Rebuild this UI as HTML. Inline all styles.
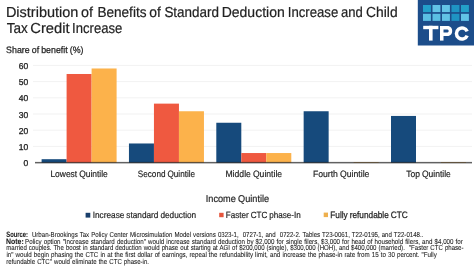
<!DOCTYPE html>
<html><head><meta charset="utf-8"><style>
html,body{margin:0;padding:0;background:#fff;width:474px;height:278px;overflow:hidden}
svg{display:block;will-change:transform;font-family:"Liberation Sans", sans-serif;text-rendering:geometricPrecision} text{word-spacing:-0.04em} text.src{word-spacing:0.06em}
</style></head><body>
<svg width="474" height="278" viewBox="0 0 474 278">
<rect x="33" y="145.90" width="439" height="1" fill="#f2f2f2"/>
<rect x="33" y="129.70" width="439" height="1" fill="#f2f2f2"/>
<rect x="33" y="113.50" width="439" height="1" fill="#f2f2f2"/>
<rect x="33" y="97.30" width="439" height="1" fill="#f2f2f2"/>
<rect x="33" y="81.10" width="439" height="1" fill="#f2f2f2"/>
<rect x="33" y="64.90" width="439" height="1" fill="#f2f2f2"/>
<rect x="41.60" y="159.20" width="25.00" height="3.40" fill="#164a7c"/>
<rect x="66.60" y="73.99" width="25.00" height="88.61" fill="#ef5940"/>
<rect x="91.60" y="68.48" width="25.00" height="94.12" fill="#fcb24b"/>
<rect x="128.95" y="143.48" width="25.00" height="19.12" fill="#164a7c"/>
<rect x="153.95" y="103.63" width="25.00" height="58.97" fill="#ef5940"/>
<rect x="178.95" y="111.25" width="25.00" height="51.35" fill="#fcb24b"/>
<rect x="216.30" y="122.75" width="25.00" height="39.85" fill="#164a7c"/>
<rect x="241.30" y="153.04" width="25.00" height="9.56" fill="#ef5940"/>
<rect x="266.30" y="153.04" width="25.00" height="9.56" fill="#fcb24b"/>
<rect x="303.65" y="111.25" width="25.00" height="51.35" fill="#164a7c"/>
<rect x="353.65" y="162.11" width="25.00" height="0.49" fill="#fcb24b"/>
<rect x="391.00" y="115.94" width="25.00" height="46.66" fill="#164a7c"/>
<rect x="441.00" y="162.11" width="25.00" height="0.49" fill="#fcb24b"/>
<rect x="35" y="161.90" width="437" height="1.5" fill="#000" fill-opacity="0.62"/>
<text x="28.3" y="166.10" text-anchor="end" font-size="8.5" fill="#222" stroke="#222" stroke-width="0.3">0</text>
<text x="28.3" y="149.90" text-anchor="end" font-size="8.5" fill="#222" stroke="#222" stroke-width="0.3">10</text>
<text x="28.3" y="133.70" text-anchor="end" font-size="8.5" fill="#222" stroke="#222" stroke-width="0.3">20</text>
<text x="28.3" y="117.50" text-anchor="end" font-size="8.5" fill="#222" stroke="#222" stroke-width="0.3">30</text>
<text x="28.3" y="101.30" text-anchor="end" font-size="8.5" fill="#222" stroke="#222" stroke-width="0.3">40</text>
<text x="28.3" y="85.10" text-anchor="end" font-size="8.5" fill="#222" stroke="#222" stroke-width="0.3">50</text>
<text x="28.3" y="68.90" text-anchor="end" font-size="8.5" fill="#222" stroke="#222" stroke-width="0.3">60</text>
<text x="50.40" y="176.9" font-size="9.2" fill="#222" stroke="#222" stroke-width="0.18" textLength="57.4" lengthAdjust="spacingAndGlyphs">Lowest Quintile</text>
<text x="137.75" y="176.9" font-size="9.2" fill="#222" stroke="#222" stroke-width="0.18" textLength="57.4" lengthAdjust="spacingAndGlyphs">Second Quintile</text>
<text x="225.45" y="176.9" font-size="9.2" fill="#222" stroke="#222" stroke-width="0.18" textLength="56.7" lengthAdjust="spacingAndGlyphs">Middle Quintile</text>
<text x="312.90" y="176.9" font-size="9.2" fill="#222" stroke="#222" stroke-width="0.18" textLength="56.5" lengthAdjust="spacingAndGlyphs">Fourth Quintile</text>
<text x="406.15" y="176.9" font-size="9.2" fill="#222" stroke="#222" stroke-width="0.18" textLength="44.7" lengthAdjust="spacingAndGlyphs">Top Quintile</text>
<text x="5.91" y="16.8" font-size="14.5" fill="#222" textLength="72.43" lengthAdjust="spacingAndGlyphs" stroke="#222" stroke-width="0.2">Distribution</text>
<text x="81.00" y="16.8" font-size="14.5" fill="#222" textLength="11.98" lengthAdjust="spacingAndGlyphs" stroke="#222" stroke-width="0.2">of</text>
<text x="97.39" y="16.8" font-size="14.5" fill="#222" textLength="49.11" lengthAdjust="spacingAndGlyphs" stroke="#222" stroke-width="0.2">Benefits</text>
<text x="149.22" y="16.8" font-size="14.5" fill="#222" textLength="11.56" lengthAdjust="spacingAndGlyphs" stroke="#222" stroke-width="0.2">of</text>
<text x="164.39" y="16.8" font-size="14.5" fill="#222" textLength="54.58" lengthAdjust="spacingAndGlyphs" stroke="#222" stroke-width="0.2">Standard</text>
<text x="221.65" y="16.8" font-size="14.5" fill="#222" textLength="63.16" lengthAdjust="spacingAndGlyphs" stroke="#222" stroke-width="0.2">Deduction</text>
<text x="287.78" y="16.8" font-size="14.5" fill="#222" textLength="50.50" lengthAdjust="spacingAndGlyphs" stroke="#222" stroke-width="0.2">Increase</text>
<text x="340.95" y="16.8" font-size="14.5" fill="#222" textLength="21.80" lengthAdjust="spacingAndGlyphs" stroke="#222" stroke-width="0.2">and</text>
<text x="366.10" y="16.8" font-size="14.5" fill="#222" textLength="31.49" lengthAdjust="spacingAndGlyphs" stroke="#222" stroke-width="0.2">Child</text>
<text x="6.72" y="32.7" font-size="14.5" fill="#222" textLength="21.02" lengthAdjust="spacingAndGlyphs" stroke="#222" stroke-width="0.2">Tax</text>
<text x="30.25" y="32.7" font-size="14.5" fill="#222" textLength="39.36" lengthAdjust="spacingAndGlyphs" stroke="#222" stroke-width="0.2">Credit</text>
<text x="72.09" y="32.7" font-size="14.5" fill="#222" textLength="50.19" lengthAdjust="spacingAndGlyphs" stroke="#222" stroke-width="0.2">Increase</text>
<text x="6.1" y="53.3" font-size="9.3" fill="#1e1e1e" stroke="#1e1e1e" stroke-width="0.25" textLength="77.4" lengthAdjust="spacingAndGlyphs">Share of benefit (%)</text>
<text x="205.8" y="201.5" font-size="9.9" fill="#222" stroke="#222" stroke-width="0.18" textLength="63.3" lengthAdjust="spacingAndGlyphs">Income Quintile</text>
<rect x="85.6" y="212.8" width="4.7" height="4.8" fill="#193f6b"/>
<text x="92.7" y="217.7" font-size="9" fill="#222" stroke="#222" stroke-width="0.18" textLength="103.5" lengthAdjust="spacingAndGlyphs">Increase standard deduction</text>
<rect x="219.2" y="212.8" width="4.4" height="4.4" fill="#e5553c"/>
<text x="225.8" y="217.7" font-size="9" fill="#222" stroke="#222" stroke-width="0.18" textLength="75" lengthAdjust="spacingAndGlyphs">Faster CTC phase-In</text>
<rect x="323.7" y="212.6" width="4.3" height="4.5" fill="#eeb04e"/>
<text x="330.3" y="217.7" font-size="9.3" fill="#1e1e1e" stroke="#1e1e1e" stroke-width="0.25" textLength="77.4" lengthAdjust="spacingAndGlyphs">Fully refundable CTC</text>
<text class="src" x="6.33" y="236.90" font-size="7.8" font-weight="bold" fill="#222" stroke="#222" stroke-width="0.08" textLength="21.63" lengthAdjust="spacingAndGlyphs" xml:space="preserve">Source:</text>
<text class="src" x="31.92" y="236.90" font-size="7.2" fill="#222" stroke="#222" stroke-width="0.08" textLength="391.44" lengthAdjust="spacingAndGlyphs" xml:space="preserve">Urban-Brookings Tax Policy Center Microsimulation Model versions 0323-1,  0727-1, and  0722-2. Tables T23-0061, T22-0195, and T22-0148..</text>
<text class="src" x="6.04" y="243.65" font-size="7.8" font-weight="bold" fill="#222" stroke="#222" stroke-width="0.08" textLength="17.73" lengthAdjust="spacingAndGlyphs" xml:space="preserve">Note:</text>
<text class="src" x="25.08" y="243.65" font-size="7.2" fill="#222" stroke="#222" stroke-width="0.08" textLength="437.72" lengthAdjust="spacingAndGlyphs" xml:space="preserve">Policy option "Increase standard deduction" would increase standard deduction by $2,000 for single filers, $3,000 for head of household filers, and $4,000 for</text>
<text class="src" x="6.19" y="250.40" font-size="7.2" fill="#222" stroke="#222" stroke-width="0.08" textLength="457.29" lengthAdjust="spacingAndGlyphs" xml:space="preserve">married couples. The boost in standard deduction would phase out starting at AGI of $200,000 (single), $300,000 (HOH), and $400,000 (married).  "Faster CTC phase-</text>
<text class="src" x="6.38" y="257.15" font-size="7.2" fill="#222" stroke="#222" stroke-width="0.08" textLength="430.44" lengthAdjust="spacingAndGlyphs" xml:space="preserve">in" would begin phasing the CTC in at the first dollar of earnings, repeal the refundability limit, and increase the phase-in rate from 15 to 30 percent. "Fully</text>
<text class="src" x="6.19" y="263.90" font-size="7.2" fill="#222" stroke="#222" stroke-width="0.08" textLength="142.88" lengthAdjust="spacingAndGlyphs" xml:space="preserve">refundable CTC" would eliminate the CTC phase-in.</text>
<rect x="417.8" y="0" width="56.2" height="45.5" fill="#1c4d8a"/>
<rect x="423.00" y="5.00" width="7.9" height="7.1" fill="#23a0c9"/>
<rect x="432.50" y="5.00" width="7.9" height="7.1" fill="#62c3e6"/>
<rect x="442.00" y="5.00" width="7.9" height="7.1" fill="#62c3e6"/>
<rect x="451.50" y="5.00" width="7.9" height="7.1" fill="#1f93c3"/>
<rect x="461.00" y="5.00" width="7.9" height="7.1" fill="#23a0c9"/>
<rect x="423.00" y="13.80" width="7.9" height="7.1" fill="#5bbfe3"/>
<rect x="432.50" y="13.80" width="7.9" height="7.1" fill="#5bbfe3"/>
<rect x="442.00" y="13.80" width="7.9" height="7.1" fill="#62c3e6"/>
<rect x="451.50" y="13.80" width="7.9" height="7.1" fill="#1f93c3"/>
<rect x="461.00" y="13.80" width="7.9" height="7.1" fill="#62c3e6"/>
<rect x="423.2" y="25.8" width="15.2" height="3.4" fill="#fff"/>
<rect x="429.0" y="25.8" width="3.6" height="14.8" fill="#fff"/>
<rect x="440.0" y="26.0" width="3.5" height="14.6" fill="#fff"/>
<path d="M441.7,27.75 H448 A3.35 3.35 0 0 1 448,34.2 H441.7" fill="none" stroke="#fff" stroke-width="3.5"/>
<path d="M467.15,31.42 A5.55 5.55 0 1 0 467.15,35.58" fill="none" stroke="#fff" stroke-width="3.5"/>
</svg>
</body></html>
